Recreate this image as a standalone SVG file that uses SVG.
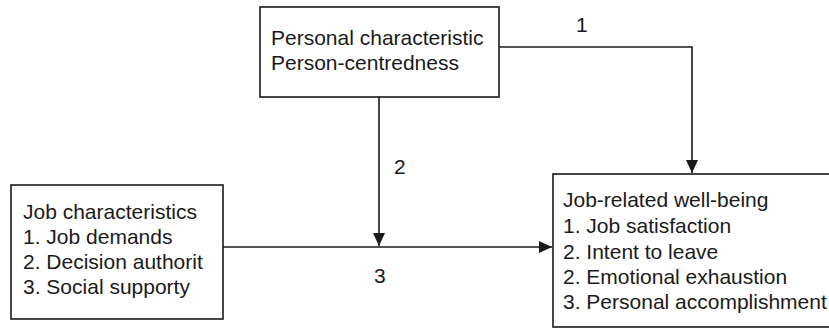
<svg xmlns="http://www.w3.org/2000/svg" width="829" height="329" viewBox="0 0 829 329">
<defs>
<marker id="ah" markerWidth="13" markerHeight="12" refX="13" refY="6" orient="auto" markerUnits="userSpaceOnUse">
<path d="M0,0 L13,6 L0,12 Z" fill="#1a1a1a"/>
</marker>
<style>
.box{fill:#fff;stroke:#1a1a1a;stroke-width:1.6}
.t{font-family:"Liberation Sans",Arial,sans-serif;font-size:21px;fill:#1a1a1a}
.c{fill:none;stroke:#1a1a1a;stroke-width:1.6}
</style>
</defs>
<rect width="829" height="329" fill="#fff"/>
<g id="personal">
<rect class="box" x="260" y="7" width="239" height="90"/>
<text class="t" x="271" y="45">Personal characteristic</text>
<text class="t" x="271" y="70">Person-centredness</text>
</g>
<g id="job">
<rect class="box" x="11" y="185" width="212" height="134"/>
<text class="t" x="23" y="219">Job characteristics</text>
<text class="t" x="23" y="244">1. Job demands</text>
<text class="t" x="23" y="269">2. Decision authorit</text>
<text class="t" x="23" y="294">3. Social supporty</text>
</g>
<g id="wellbeing">
<rect class="box" x="553" y="174" width="290" height="153"/>
<text class="t" x="563" y="207">Job-related well-being</text>
<text class="t" x="563" y="233">1. Job satisfaction</text>
<text class="t" x="563" y="259">2. Intent to leave</text>
<text class="t" x="563" y="284">2. Emotional exhaustion</text>
<text class="t" x="563" y="309">3. Personal accomplishment</text>
</g>
<g id="connectors">
<path class="c" d="M499,47 H692 V173" marker-end="url(#ah)"/>
<path class="c" d="M379,97 V246" marker-end="url(#ah)"/>
<path class="c" d="M223,247 H552" marker-end="url(#ah)"/>
<text class="t" x="576" y="32">1</text>
<text class="t" x="394" y="174">2</text>
<text class="t" x="374" y="283">3</text>
</g>
</svg>
